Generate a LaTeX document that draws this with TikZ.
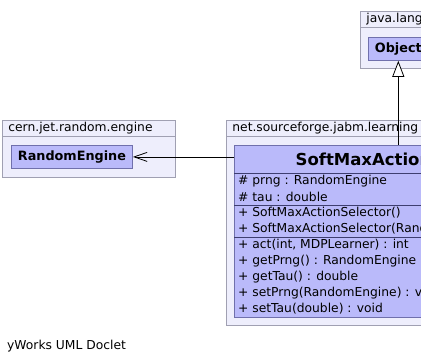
\documentclass[tikz,border=0pt]{standalone}
\usepackage{fontspec}
\setmainfont{DejaVu Sans}
\usetikzlibrary{positioning}
\usetikzlibrary{arrows.meta}
\usepackage{xcolor}

\definecolor{pkgfill}{RGB}{238,238,252}
\definecolor{pkgline}{RGB}{160,160,178}
\definecolor{clsfill}{RGB}{186,186,250}
\definecolor{clsline}{RGB}{112,112,172}
\definecolor{sepline}{RGB}{62,62,112}

\tikzset{
  pkgtab/.style={draw=pkgline, fill=pkgfill, line width=0.8pt, anchor=north west,
    inner xsep=6pt, inner ysep=0pt, minimum height=16pt, align=left,
    font=\fontsize{12.3}{14}\selectfont},
  pkgbody/.style={draw=pkgline, fill=pkgfill, line width=0.8pt, anchor=north west,
    inner sep=0pt},
  clsbox/.style={draw=clsline, fill=clsfill, line width=0.8pt, anchor=north west,
    inner xsep=6.5pt, inner ysep=0pt, minimum height=23pt,
    font=\fontsize{12.8}{14}\selectfont\bfseries},
  member/.style={anchor=west, inner sep=0pt, font=\fontsize{12.3}{14}\selectfont},
  sep/.style={draw=sepline, line width=0.8pt}
}

\begin{document}
\begin{tikzpicture}[x=1pt, y=-1pt]
  \useasboundingbox (0,0) rectangle (421,364);
  \clip (0,0) rectangle (421,364);
  \fill[white] (0,0) rectangle (421,364);

  % java.lang
  \node[pkgbody, minimum width=75pt, minimum height=41pt] (langbody) at (360,27) {};
  \node[pkgtab, text width=63pt] (langtab) at (360,11) {java.lang};
  \node[clsbox] (object) at (368,37) {Object};

  % cern.jet.random.engine
  \node[pkgbody, minimum width=173pt, minimum height=41pt] (cernbody) at (2,136) {};
  \node[pkgtab, text width=161pt] (cerntab) at (2,120) {cern.jet.random.engine};
  \node[clsbox] (randeng) at (11,145) {RandomEngine};

  % net.sourceforge.jabm.learning
  \node[pkgbody, minimum width=360pt, minimum height=189pt] (netbody) at (226,136) {};
  \node[pkgtab, text width=348pt] (nettab) at (226,120) {net.sourceforge.jabm.learning};
  \node[clsbox, minimum width=336pt, minimum height=172pt] (softmax) at (234,145) {};
  \node[font=\fontsize{16.5}{18}\selectfont\bfseries, inner sep=0pt] (title) at (402,159) {SoftMaxActionSelector};

  \draw[sep] ([yshift=-28pt]softmax.north west) -- ([yshift=-28pt]softmax.north east);
  \draw[sep] ([yshift=-60pt]softmax.north west) -- ([yshift=-60pt]softmax.north east);
  \draw[sep] ([yshift=-92pt]softmax.north west) -- ([yshift=-92pt]softmax.north east);

  \node[member] (prng) at (238,181) {\# prng : RandomEngine};
  \node[member] (tau) at (238,197) {\# tau : double};
  \node[member] (ctora) at (238,213) {+ SoftMaxActionSelector()};
  \node[member] (ctorb) at (238,229) {+ SoftMaxActionSelector(RandomEngine, double)};
  \node[member] (act) at (238,245) {+ act(int, MDPLearner) : int};
  \node[member] (getprng) at (238,261) {+ getPrng() : RandomEngine};
  \node[member] (gettau) at (238,277) {+ getTau() : double};
  \node[member] (setprng) at (238,293) {+ setPrng(RandomEngine) : void};
  \node[member] (settau) at (238,309) {+ setTau(double) : void};

  \draw[line width=0.8pt, -{Triangle[length=16pt, width=12pt, fill=white]}]
    (softmax.north -| object) -- (object.south);
  \draw[line width=0.8pt, -{Straight Barb[length=13pt, width=9pt]}]
    (softmax.west |- randeng) -- (randeng.east);

  \node[member] (doclet) at (7,346) {yWorks UML Doclet};
\end{tikzpicture}
\end{document}
